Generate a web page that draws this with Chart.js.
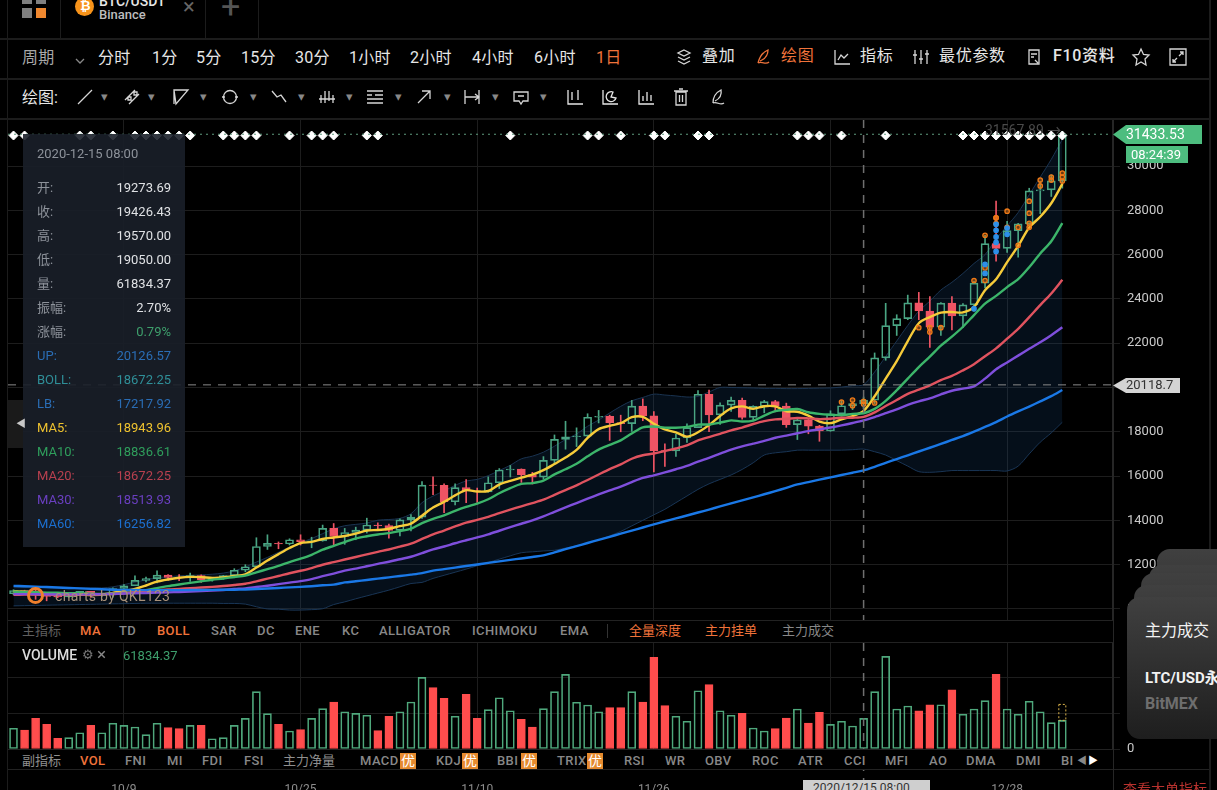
<!DOCTYPE html>
<html>
<head>
<meta charset="utf-8">
<title>BTC/USDT</title>
<script src="https://cdn.jsdelivr.net/npm/chart.js@4/dist/chart.umd.min.js"></script>
<style>
html,body{margin:0;background:#000;width:1217px;height:790px;overflow:hidden;font-family:Roboto,"Noto Sans CJK SC",sans-serif}
canvas{position:absolute;left:0;display:block}
#page{position:absolute;left:0;top:0;width:1217px;height:790px;overflow:hidden}
.t{position:absolute;white-space:nowrap;transform:translateY(-50%);line-height:1.2}
.box{position:absolute}
svg{position:absolute;overflow:visible}
svg *{fill:none;stroke:#d6d6d6;stroke-width:1.3}
</style>
</head>
<body>
<div id="page">
<canvas id="priceChart" width="1217" height="500" style="top:120px;width:1217px;height:500px"></canvas>
<canvas id="volumeChart" width="1217" height="160" style="top:643px;width:1217px;height:160px"></canvas>
<div id="ui"></div>
</div>
<script>
// one label per day, the last four are the empty space right of the last candle
const dates = ["9/29","9/30","10/1","10/2","10/3","10/4","10/5","10/6","10/7","10/8","10/9","10/10","10/11","10/12","10/13","10/14","10/15","10/16","10/17","10/18","10/19","10/20","10/21","10/22","10/23","10/24","10/25","10/26","10/27","10/28","10/29","10/30","10/31","11/1","11/2","11/3","11/4","11/5","11/6","11/7","11/8","11/9","11/10","11/11","11/12","11/13","11/14","11/15","11/16","11/17","11/18","11/19","11/20","11/21","11/22","11/23","11/24","11/25","11/26","11/27","11/28","11/29","11/30","12/1","12/2","12/3","12/4","12/5","12/6","12/7","12/8","12/9","12/10","12/11","12/12","12/13","12/14","12/15","12/16","12/17","12/18","12/19","12/20","12/21","12/22","12/23","12/24","12/25","12/26","12/27","12/28","12/29","12/30","12/31","1/1","1/2","1/3","1/4","1/5","1/6"];
const dateTicks = ["10/9","10/25","11/10","11/26","12/12","12/28"];
const priceTicks = [10000,12000,14000,16000,18000,20000,22000,24000,26000,28000,30000];
const volumeTicks = [0,71500,143000];

const opens = [10689,10833,10776,10619,10570,10542,10666,10792,10599,10666,10925,11050,11293,11369,11528,11429,11420,11505,11319,11360,11503,11750,11909,12823,12965,12934,13128,13037,13075,13637,13272,13455,13560,13792,13761,13550,14025,14144,15590,15580,14840,15479,15332,15290,15701,16276,16317,16070,15957,16713,17659,17776,17802,18655,18703,18414,18368,19160,18720,17150,17139,17719,18185,19695,18764,19204,19421,18650,19147,19359,19166,18324,18541,18254,18036,18808,19175,19273.69,19426,21335,22797,23107,23821,23455,22719,23810,23232,23729,24712,26493,26281,27079,27385,28875,28923,29331];
const closes = [10833,10776,10619,10570,10542,10666,10792,10599,10666,10925,11050,11293,11369,11528,11429,11420,11505,11319,11360,11503,11750,11909,12823,12965,12934,13128,13037,13075,13637,13272,13455,13560,13792,13761,13550,14025,14144,15590,15580,14840,15479,15332,15290,15701,16276,16317,16070,15957,16713,17659,17776,17802,18655,18703,18414,18368,19160,18720,17150,17139,17719,18185,19695,18764,19204,19421,18650,19147,19359,19166,18324,18541,18254,18036,18808,19175,19273,19426.43,21335,22797,23107,23821,23455,22719,23810,23232,23729,24712,26493,26281,27079,27385,28875,28923,29331,31433.53];
const highs = [10870,10847,10920,10669,10594,10689,10798,10800,10681,10950,11100,11492,11445,11720,11557,11550,11626,11540,11402,11518,11820,12000,13217,13350,13027,13170,13350,13240,13789,13859,13638,13695,14100,13895,13830,14067,14259,15750,15965,15650,15650,15840,15460,15965,16340,16480,16326,16170,16880,17858,18476,18179,18815,18965,18750,18750,19418,19484,18915,17457,17880,18360,19863,19888,19308,19567,19527,19177,19420,19420,19294,18626,18557,18292,18948,19411,19349,19570,21560,23800,23285,24171,24295,24102,23837,24100,23794,24789,26867,28422,27500,27410,28996,29300,29600,31567.89];
const lows = [10640,10665,10437,10370,10506,10522,10630,10525,10565,10530,10830,11050,11221,11177,11300,11280,11250,11200,11255,11340,11411,11680,11886,12688,12720,12890,12888,12765,13060,12888,12920,13127,13430,13600,13195,13300,13525,14093,15166,14344,14700,14805,14810,15272,15440,15960,15715,15640,15870,16555,17214,17335,17740,18400,17610,18000,18018,18500,16188,16438,16886,17517,18185,18001,18330,18925,18565,18500,18857,18902,18200,17650,17911,17572,18020,18711,19000,19050,19278,21230,22350,23060,23060,21815,22353,22600,22703,23433,24500,25700,26101,25880,27320,27850,28624,29000];
const volumes = [41700,38300,61800,49700,21500,22800,32800,47700,32800,51800,47700,44300,28800,51800,42900,40900,47700,47700,20700,22800,47700,61800,115400,71100,49700,36300,38900,61800,81200,94700,75100,71900,67900,36900,65900,75100,94700,144400,123500,102100,65900,110200,61800,79200,103300,77100,59800,44300,81200,115400,150400,94100,88600,75100,83200,83200,115400,94700,184700,87200,65900,55800,117400,129500,77100,67900,71900,42300,36300,40900,62400,80600,52400,73900,49700,55800,46300,61834.37,115400,186700,80600,86600,77100,89200,89200,119400,69900,80600,97300,150400,80600,69900,96100,75100,53000,57800];

const ma5 = [10790,10780,10740,10700,10668,10635,10638,10634,10653,10730,10806,10907,11061,11233,11334,11408,11450,11440,11407,11421,11487,11568,11869,12190,12476,12752,12977,13028,13162,13230,13295,13400,13543,13568,13624,13738,13854,14214,14578,14836,15127,15364,15304,15328,15616,15783,15931,16064,16267,16543,16835,17181,17721,18119,18270,18388,18660,18673,18362,18107,17978,17783,17978,18300,18713,19054,19147,19037,19156,19149,18929,18907,18729,18464,18393,18563,18709,18943.96,19603,20401,21188,22097,22903,23180,23382,23407,23389,23640,24395,24889,25659,26390,27223,27709,28319,29189];
const ma10 = [10780,10770,10760,10740,10730,10712,10709,10687,10676,10699,10720,10772,10847,10943,11032,11107,11178,11250,11320,11377,11447,11509,11654,11798,11948,12119,12272,12448,12676,12853,13023,13188,13285,13365,13427,13516,13627,13878,14073,14230,14432,14609,14759,14953,15226,15455,15647,15684,15797,16079,16309,16556,16892,17193,17406,17611,17920,18197,18240,18188,18183,18221,18325,18331,18410,18516,18465,18507,18728,18931,18991,19027,18883,18810,18771,18746,18808,18836.61,19033,19397,19875,20403,20923,21391,21891,22297,22743,23271,23787,24135,24533,24889,25431,26052,26604,27424];
const ma20 = [10640,10650,10650,10640,10630,10640,10650,10650,10660,10680,10700,10771,10803,10841,10881,10910,10943,10968,10998,11038,11083,11140,11250,11370,11490,11613,11725,11849,11998,12115,12235,12348,12469,12581,12687,12817,12949,13163,13374,13541,13727,13898,14022,14159,14326,14485,14637,14781,14935,15154,15370,15582,15825,16073,16316,16533,16783,16940,17018,17133,17246,17388,17608,17762,17908,18063,18192,18352,18484,18559,18587,18624,18604,18570,18590,18631,18636,18672.25,18880,19164,19433,19715,19903,20100,20331,20521,20775,21053,21410,21766,22204,22646,23177,23721,24247,24860];
const ma30 = [10670,10670,10670,10660,10660,10660,10660,10660,10670,10680,10700,10710,10720,10740,10750,10770,10790,10810,10830,10860,10900,10930,10990,11050,11120,11190,11260,11350,11480,11600,11730,11823,11928,12035,12135,12247,12359,12525,12689,12820,12967,13102,13233,13372,13533,13696,13849,14003,14182,14387,14588,14784,14978,15170,15353,15527,15731,15919,16036,16165,16308,16462,16658,16826,17014,17194,17344,17463,17588,17732,17828,17935,18033,18111,18195,18291,18397,18513.93,18667,18839,19016,19217,19377,19510,19691,19853,19950,20050,20400,20821,21133,21440,21746,22040,22360,22720];
const ma60 = [11044,11030,11010,10990,10970,10950,10930,10910,10890,10870,10860,10855,10850,10850,10850,10850,10855,10860,10865,10870,10870,10880,10900,10925,10950,10975,11000,11030,11070,11100,11200,11250,11310,11370,11430,11490,11550,11620,11730,11800,11870,11940,12010,12080,12150,12220,12280,12350,12420,12560,12700,12840,12980,13120,13260,13400,13540,13680,13820,13960,14090,14220,14355,14490,14630,14770,14900,15040,15180,15320,15470,15624,15730,15840,15940,16050,16150,16256.82,16420,16600,16770,16940,17110,17280,17450,17630,17810,18010,18220,18440,18690,18920,19140,19370,19610,19887];
const bollUp = [10980,10980,10970,10960,10950,10950,10950,10950,10950,11000,11100,11210,11320,11420,11450,11500,11520,11540,11570,11620,11720,11900,12120,12330,12560,12800,13000,13180,13400,13620,13760,13820,13880,14010,14040,14090,14300,14800,15100,15330,15580,15780,15850,16020,16250,16490,16780,16900,17080,17350,17650,17900,18250,18530,18850,19150,19400,19550,19700,19660,19620,19570,19600,19800,20000,20000,19990,19980,19960,19960,19950,19950,19960,19970,19980,20020,20080,20126.57,20700,21400,22100,22800,23450,23900,24400,24750,25150,25600,26000,26700,27300,27900,28700,29500,30300,31200];
const bollLow = [10140,10150,10160,10170,10180,10190,10200,10210,10220,10230,10240,10250,10260,10260,10260,10260,10260,10260,10260,10250,10250,10220,10100,10000,9990,9950,9950,9970,10010,10200,10320,10460,10590,10720,10850,11000,11150,11200,11380,11520,11660,11800,11950,12100,12250,12400,12540,12580,12620,12650,12750,12850,12980,13120,13300,13500,13750,14000,14250,14500,14800,15100,15400,15650,15850,16050,16300,16600,16950,17050,17100,17170,17170,17170,17170,17170,17190,17217.92,17100,16950,16700,16450,16200,16170,16200,16250,16250,16250,16250,16250,16230,16450,17000,17530,17950,18430];

// diamonds along the top of the pane, by date
const diamondDates = ["9/29","9/30","10/5","10/6","10/8","10/10","10/11","10/12","10/13","10/14","10/15","10/18","10/19","10/20","10/21","10/24","10/26","10/27","10/28","10/31","11/1","11/13","11/20","11/21","11/23","11/26","11/27","11/30","12/1","12/9","12/10","12/11","12/13","12/17","12/24","12/25","12/26","12/27","12/28","12/29","12/30","12/31","1/1","1/2"];
const diamondPrice = 31377;
const lastPrice = 31433.53;
const crossPrice = 20118.7;
const crossDate = "12/15";

// order book markers near the right end
const orangeDates = ["12/13","12/14","12/14","12/15","12/15","12/16","12/20","12/21","12/21","12/22","12/26","12/27","12/25","12/27","12/27","12/28","12/26","12/26","12/28","12/29","12/29","12/30","12/30","12/30","12/30","12/31","1/1","12/31","1/2","1/2","1/1","1/2"];
const orangeValues = [19340,19430,19180,19250,19380,19300,22700,22700,22500,22700,26870,27660,24830,27660,27400,27960,24830,25400,27230,27230,26420,28412,27870,27415,27230,29365,29365,29100,29683,29320,29500,29500];
const blueDates = ["12/25","12/26","12/26","12/27","12/27","12/27","12/27","12/27","12/28","12/28"];
const blueValues = [23560,25555,25150,27370,27100,26800,26550,26145,26916,27200];

const upColor = "#4aa583";
const downColor = "#ef5464";
const gridColor = "#1d1d1d";

Chart.defaults.font.family = "Roboto, 'Noto Sans CJK SC', sans-serif";
Chart.defaults.animation = false;

const isUp = (i) => closes[i] >= opens[i];
const candleColors = opens.map((o, i) => isUp(i) ? upColor : downColor);
const bodies = opens.map((o, i) => [o, closes[i]]);
const upperWicks = opens.map((o, i) => [Math.max(o, closes[i]), highs[i]]);
const lowerWicks = opens.map((o, i) => [lows[i], Math.min(o, closes[i])]);
const bodyFill = opens.map((o, i) => isUp(i) ? "rgba(0,0,0,0)" : downColor);

function wickSet(data) {
    return { type: "bar", data: data, grouped: false, barThickness: 1, backgroundColor: candleColors, order: 6 };
}

function maSet(data, color) {
    return { type: "line", data: data, borderColor: color, borderWidth: 2.4, pointRadius: 0, tension: 0.3, order: 3 };
}

function markerSet(xs, ys, color, fill) {
    return {
        type: "line", showLine: false, order: 1,
        data: xs.map((x, i) => ({ x: x, y: ys[i] })),
        pointRadius: 2.2, pointBorderWidth: 1.3, pointBorderColor: color, pointBackgroundColor: fill
    };
}

// extends past the last category, so these lines are not datasets
const paneLines = {
    id: "paneLines",
    afterDatasetsDraw(chart) {
        const ctx = chart.ctx;
        const area = chart.chartArea;
        const xScale = chart.scales.x;
        const crossX = xScale.getPixelForValue(dates.indexOf(crossDate));
        ctx.save();
        ctx.strokeStyle = "#6f6f6f";
        ctx.lineWidth = 1.5;
        ctx.setLineDash([8, 7]);
        ctx.beginPath();
        ctx.moveTo(crossX, 0);
        ctx.lineTo(crossX, chart.height);
        ctx.stroke();
        if (chart.canvas.id === "priceChart") {
            const crossY = chart.scales.y.getPixelForValue(crossPrice);
            ctx.lineWidth = 1;
            ctx.strokeStyle = "#8a8a8a";
            ctx.beginPath();
            ctx.moveTo(area.left, crossY);
            ctx.lineTo(area.right, crossY);
            ctx.stroke();
            const lastY = chart.scales.y.getPixelForValue(lastPrice);
            ctx.strokeStyle = "#5f9a7e";
            ctx.setLineDash([2, 4]);
            ctx.beginPath();
            ctx.moveTo(area.left, lastY);
            ctx.lineTo(area.right, lastY);
            ctx.stroke();
        } else {
            // dotted box on top of the running bar
            const i = closes.length - 1;
            const x = xScale.getPixelForValue(i);
            const y1 = chart.scales.y.getPixelForValue(volumes[i]);
            const y2 = chart.scales.y.getPixelForValue(volumes[i] + 32000);
            ctx.strokeStyle = "#d8b14a";
            ctx.lineWidth = 1;
            ctx.setLineDash([2, 2]);
            ctx.strokeRect(x - 3.5, y2, 7, y1 - y2);
        }
        ctx.restore();
    }
};

// keep the tick labels from pushing the plot area in, the panes must fill their canvas
function fixAxis(width) {
    return (axis) => {
        axis.width = width;
        axis.paddingTop = 0;
        axis.paddingBottom = 0;
    };
}

function xAxis(extra) {
    return Object.assign({
        offset: true,
        afterBuildTicks: (axis) => {
            axis.ticks = axis.ticks.filter((t) => dateTicks.includes(dates[t.value]));
        },
        grid: { color: gridColor, offset: false, drawTicks: false },
        border: { display: false }
    }, extra);
}

new Chart(document.getElementById("priceChart"), {
    type: "bar",
    data: {
        labels: dates,
        datasets: [
            {
                type: "line", data: bollUp, borderColor: "#1a3350", borderWidth: 1, pointRadius: 0, tension: 0.3,
                fill: "+1", backgroundColor: "rgba(24,74,128,0.2)", order: 7
            },
            { type: "line", data: bollLow, borderColor: "#1a3350", borderWidth: 1, pointRadius: 0, tension: 0.3, order: 7 },
            wickSet(upperWicks),
            wickSet(lowerWicks),
            {
                type: "bar", data: bodies, grouped: false, barThickness: 8, borderWidth: 1, borderSkipped: false,
                borderColor: candleColors, backgroundColor: bodyFill, order: 5
            },
            maSet(ma60, "#1a78e6"),
            maSet(ma30, "#7f4fdc"),
            maSet(ma20, "#e0535f"),
            maSet(ma10, "#3cb56a"),
            maSet(ma5, "#f6cb3a"),
            markerSet(blueDates, blueValues, "#2d8fe8", "#2d8fe8"),
            markerSet(orangeDates, orangeValues, "#ef7a17", "rgba(239,122,23,0.45)"),
            {
                type: "line", showLine: false, order: 0,
                data: diamondDates.map((d) => ({ x: d, y: diamondPrice })),
                pointStyle: "rectRot", pointRadius: 4.5, pointBackgroundColor: "#fff", pointBorderColor: "#fff"
            }
        ]
    },
    plugins: [paneLines],
    options: {
        responsive: false,
        layout: { autoPadding: false, padding: { left: 8, top: 0, right: 0, bottom: 0 } },
        plugins: { legend: { display: false }, tooltip: { enabled: false } },
        scales: {
            x: xAxis({ ticks: { display: false }, afterFit: (axis) => { axis.height = 0; } }),
            y: {
                position: "right", min: 9503, max: 32077,
                afterBuildTicks: (axis) => { axis.ticks = priceTicks.map((v) => ({ value: v })); },
                afterFit: fixAxis(105),
                ticks: { color: "#c9c9c9", font: { size: 13 }, padding: 7, callback: (v) => v },
                grid: { color: gridColor, tickLength: 8 },
                border: { color: "#262626" }
            }
        }
    }
});

new Chart(document.getElementById("volumeChart"), {
    type: "bar",
    data: {
        labels: dates,
        datasets: [{
            data: volumes, barThickness: 8, borderWidth: 1, borderSkipped: false,
            borderColor: volumes.map((v, i) => isUp(i) ? "#4fa87c" : "#ff4d4d"),
            backgroundColor: volumes.map((v, i) => isUp(i) ? "rgba(0,0,0,0)" : "#ff4d4d")
        }]
    },
    plugins: [paneLines],
    options: {
        responsive: false,
        layout: { autoPadding: false, padding: { left: 8, top: 0, right: 0, bottom: 0 } },
        plugins: { legend: { display: false }, tooltip: { enabled: false } },
        scales: {
            x: xAxis({
                afterFit: (axis) => { axis.height = 54; },
                ticks: { color: "#8c8c8c", font: { size: 12 }, padding: 34, autoSkip: false, maxRotation: 0, callback: (v, i, all) => dates[all[i].value] }
            }),
            y: {
                position: "right", min: 0, max: 213484,
                afterBuildTicks: (axis) => { axis.ticks = volumeTicks.map((v) => ({ value: v })); },
                afterFit: fixAxis(105),
                ticks: { color: "#c9c9c9", font: { size: 13 }, padding: 7, callback: (v) => v },
                grid: { color: gridColor, tickLength: 8 },
                border: { color: "#262626" }
            }
        }
    }
});

// ---- page furniture around the charts ----
const ui = document.getElementById("ui");
const orange = "#f0733a";
const light = "#e6e6e6";

function text(s, x, y, color, size, extra) {
    const el = document.createElement("div");
    el.className = "t";
    el.textContent = s;
    el.style.cssText = "left:" + x + "px;top:" + y + "px;color:" + color + ";font-size:" + size + "px;" + (extra || "");
    ui.appendChild(el);
    return el;
}

function box(x, y, w, h, bg, extra) {
    const el = document.createElement("div");
    el.className = "box";
    el.style.cssText = "left:" + x + "px;top:" + y + "px;width:" + w + "px;height:" + h + "px;background:" + bg + ";" + (extra || "");
    ui.appendChild(el);
    return el;
}

function icon(x, y, inner, color) {
    const s = document.createElementNS("http://www.w3.org/2000/svg", "svg");
    s.setAttribute("width", 20);
    s.setAttribute("height", 20);
    s.style.left = (x - 10) + "px";
    s.style.top = (y - 10) + "px";
    s.innerHTML = inner;
    if (color) s.querySelectorAll("*").forEach((n) => { n.style.stroke = color; });
    ui.appendChild(s);
}

// strips behind the indicator rows, they also cut the crosshair
box(0, 621, 1113, 21, "#000");
box(0, 750, 1113, 20, "#000");
box(0, 0, 1217, 120, "#000");

// rules
[38, 78, 118].forEach((y) => box(0, y, 1209, 2, "#1c1c1c"));
[620, 642, 749, 769].forEach((y) => box(8, y, 1105, 1, "#222"));
box(1113, 769, 96, 1, "#222");
box(7, 0, 1, 790, "#1c1c1c");
box(1209, 0, 2, 790, "#1c1c1c");
box(1113, 120, 1, 670, "#262626");
[60, 205, 258].forEach((x) => box(x, 0, 1, 38, "#1c1c1c"));

// tab strip
box(22, -6, 10, 10, "#808080");
box(36, -6, 10, 10, "#808080");
box(22, 8, 10, 10, "#808080");
box(36, 8, 10, 10, "#f0882f");
box(75, -3, 19, 19, "#f7931a", "border-radius:50%");
text("₿", 80, 6, "#fff", 13, "font-weight:700");
text("BTC/USDT", 99, 1, "#e6e6e6", 14, "font-weight:500");
text("Binance", 99, 15, "#bdbdbd", 13, "font-weight:500");
text("×", 183, 7, "#666", 22);
text("+", 221, 6, "#555", 34);

// period row
const periodNames = ["周期","分时","1分","5分","15分","30分","1小时","2小时","4小时","6小时","1日"];
const periodXs = [22,98,152,196,241,295,349,410,472,534,596];
periodNames.forEach((n, i) => text(n, periodXs[i], 58, i === 0 ? "#a8a8a8" : i === 10 ? orange : light, 16, "letter-spacing:.3px"));
icon(80, 61, '<path d="M-4 -2 L0 2 L4 -2" transform="translate(10,10)"/>', "#888");

const toolNames = ["叠加","绘图","指标","最优参数","F10资料"];
const toolXs = [702,781,860,939,1053];
toolNames.forEach((n, i) => text(n, toolXs[i], 56, i === 1 ? orange : light, 16, "letter-spacing:.7px;" + (i === 4 ? "font-weight:500" : "")));
icon(684, 57, '<path d="M10 3 L16 6 L10 9 L4 6 Z M4 10 L10 13 L16 10 M4 14 L10 17 L16 14"/>');
icon(763, 57, '<path d="M5 16 C7 8 10 5 15 3 C15 8 12 12 7 14 M5 16 C9 14 13 18 16 15"/>', orange);
icon(842, 57, '<path d="M3 3 V17 H18 M6 13 L9 8 L12 11 L16 7"/>');
icon(921, 57, '<path d="M4 3 V17 M10 3 V17 M16 3 V17 M2 8 H6 M8 12 H12 M14 7 H18"/>');
icon(1034, 57, '<path d="M5 3 H15 V17 H5 Z M7 7 H13 M7 10 H10 M11 13 L14 16"/>');
icon(1141, 57, '<path d="M10 2 L12.5 7.5 L18 8 L14 12 L15 18 L10 15 L5 18 L6 12 L2 8 L7.5 7.5 Z"/>');
icon(1178, 57, '<path d="M2 2 H18 V18 H2 Z M11 9 L15 5 M12 5 H15 V8 M9 11 L5 15 M5 12 V15 H8"/>');

// drawing tools row
text("绘图:", 22, 98, light, 16);
icon(85, 97, '<path d="M3 17 L17 3"/>');
icon(132, 97, '<path d="M3 13 L13 3 M7 17 L17 7 M6 10 h3 v3 h-3 Z M12 5 h3 v3 h-3 Z"/>');
icon(181, 97, '<path d="M3 3 H17 L5 17 Z M3 3 V17"/>');
icon(230, 97, '<circle cx="10" cy="10" r="6.5"/><path d="M2 10 H5 M15 10 H18"/>');
icon(279, 97, '<path d="M3 4 L8 10 L12 8 L17 15"/>');
icon(327, 97, '<path d="M4 16 V8 M8 16 V4 M12 14 V4 M16 16 V8 M2 12 H18"/>');
icon(375, 97, '<path d="M2 4 H18 M10 8 H18 M2 12 H18 M2 16 H18 M2 8 H7"/>');
icon(424, 97, '<path d="M4 16 L16 4 M8 4 H16 V12"/>');
icon(472, 97, '<path d="M3 3 V17 M17 3 V17 M3 10 H17 M13 7 L17 10 L13 13"/>');
icon(521, 97, '<path d="M3 5 H17 V14 H12 L10 17 L8 14 H3 Z M7 9 H13"/>');
[105,152,204,254,302,350,399,448,496,544].forEach((x) => text("▾", x - 4, 97, "#888", 13));
icon(575, 97, '<path d="M3 3 V17 H18 M7 5 V13 M13 3 V13"/>', "#e6e6e6");
icon(610, 97, '<path d="M3 3 V17 H18 M13 5 A5 5 0 1 0 16 11 L11 10 Z"/>', "#e6e6e6");
icon(646, 97, '<path d="M3 3 V17 H18 M7 9 V14 M11 5 V14 M15 8 V14"/>', "#e6e6e6");
icon(681, 97, '<path d="M5 5 H15 V18 H5 Z M3 4 H17 M8 2 H12 M8.5 8 V15 M11.5 8 V15"/>');
icon(717, 97, '<path d="M6 16 C6 9 10 5 14 3 C15 8 12 12 8 14 M6 16 C10 14 13 19 17 16"/>');

// grey high-price note
text("31567.89 →", 985, 130, "#4a4a4a", 14);

// main indicator row
const mainNames = ["主指标","MA","TD","BOLL","SAR","DC","ENE","KC","ALLIGATOR","ICHIMOKU","EMA","全量深度","主力挂单","主力成交"];
const mainXs = [22,80,119,157,211,257,295,342,379,472,560,629,705,782];
const mainOn = ["MA","BOLL","全量深度","主力挂单"];
mainNames.forEach((n, i) => text(n, mainXs[i], 631, mainOn.includes(n) ? orange : i === 0 ? "#5f5f5f" : "#888", 13, /[A-Z]/.test(n) ? "font-weight:500;letter-spacing:.4px" : ""));
box(607, 624, 1, 14, "#333");

// volume title
text("VOLUME", 22, 655, "#dcdcdc", 14, "font-weight:500");
text("⚙", 82, 655, "#777", 13);
text("×", 97, 654, "#888", 17);
text("61834.37", 123, 656, "#3e9f6c", 13);

// sub indicator row
const subNames = ["副指标","VOL","FNI","MI","FDI","FSI","主力净量","MACD","KDJ","BBI","TRIX","RSI","WR","OBV","ROC","ATR","CCI","MFI","AO","DMA","DMI","BI"];
const subXs = [22,80,125,167,202,244,283,360,436,497,557,624,665,705,752,798,844,885,929,966,1016,1061];
subNames.forEach((n, i) => text(n, subXs[i], 761, n === "VOL" ? orange : i === 0 || n === "主力净量" ? "#8f8f8f" : "#888", 13, /[A-Z]/.test(n) ? "font-weight:500;letter-spacing:.4px" : ""));
[400,462,521,587].forEach((x) => {
    box(x, 753, 16, 16, "#e58a2e");
    text("优", x + 1, 761, "#fff", 14);
});
text("◀", 1077, 761, "#888", 10);
text("▶", 1088, 761, "#fff", 10);

// date flag under the crosshair
box(803, 780, 127, 12, "#cfcfcf");
text("2020/12/15 08:00", 813, 788, "#333", 12);

// hover panel
box(23, 134, 162, 413, "rgba(26,31,41,0.9)");
text("2020-12-15 08:00", 37, 154, "#8d929a", 13);
const panelLabels = ["开:","收:","高:","低:","量:","振幅:","涨幅:","UP:","BOLL:","LB:","MA5:","MA10:","MA20:","MA30:","MA60:"];
const panelValues = ["19273.69","19426.43","19570.00","19050.00","61834.37","2.70%","0.79%","20126.57","18672.25","17217.92","18943.96","18836.61","18672.25","18513.93","16256.82"];
const panelColors = ["#dfe1e4","#dfe1e4","#dfe1e4","#dfe1e4","#dfe1e4","#dfe1e4","#3e9f6c","#2a6db5","#2f8f98","#2a6db5","#eec22f","#2f9e5c","#b8404f","#6a3fc0","#1c6fcf"];
panelLabels.forEach((n, i) => {
    const y = 188 + i * 24;
    text(n, 37, y, i < 7 ? "#8d929a" : panelColors[i], 13);
    text(panelValues[i], 0, y, panelColors[i], 13, "left:auto;right:" + (1217 - 171) + "px");
});

// collapse tab
box(8, 400, 15, 48, "#1a1a1a");
text("◀", 16, 424, "#c8c8c8", 10);

// watermark
box(27, 587, 17, 17, "transparent", "border:3px solid #ef7f2c;border-radius:50%;box-sizing:border-box;clip-path:polygon(0 0,100% 0,100% 70%,70% 100%,0 100%)");
text("charts by QKL123", 55, 596, "#a8917a", 14, "letter-spacing:.3px");

// price flags
box(1113, 125, 89, 19, "#4dbd7f", "clip-path:polygon(0 50%,13px 0,100% 0,100% 100%,13px 100%)");
text("31433.53", 1126, 134, "#fff", 14);
box(1126, 146, 62, 17, "#4dbd7f");
text("08:24:39", 1131, 155, "#fff", 13);
box(1113, 378, 67, 15, "#d4d4d4", "clip-path:polygon(0 50%,13px 0,100% 0,100% 100%,13px 100%)");
text("20118.7", 1126, 385, "#333", 13);

// stacked toast cards
[[1157,549,160],[1149,565,150],[1141,573,150],[1134,585,150],[1127,597,142]].forEach((c) => {
    box(c[0], c[1], 1237 - c[0], c[2], "linear-gradient(#404040,#1e1e1e)", "border-radius:13px");
});
text("主力成交", 1145, 631, "#f2f2f2", 16);
text("LTC/USD永续", 1145, 678, "#f2f2f2", 15, "font-weight:700");
text("BitMEX", 1145, 704, "#6e6e6e", 16, "font-weight:700");
text("查看大单指标", 1123, 789, "#b8322e", 14);
</script>
</body>
</html>
